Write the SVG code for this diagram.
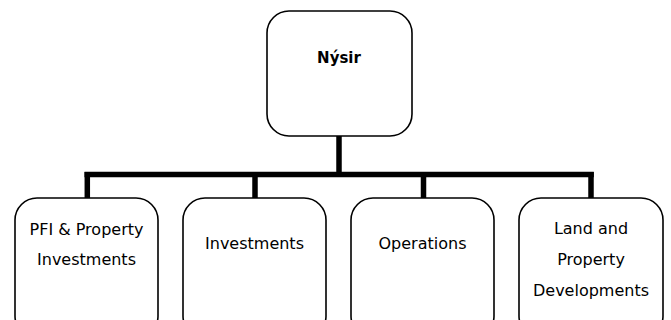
<svg xmlns="http://www.w3.org/2000/svg" width="671" height="320" viewBox="0 0 671 320">
<style>
.box{fill:#fff;stroke:#000;stroke-width:1.6}
.t{font-family:"DejaVu Sans",Verdana,sans-serif;font-size:16px;fill:#000;text-anchor:middle}
.b{font-family:"DejaVu Sans",Verdana,sans-serif;font-size:15px;font-weight:bold;fill:#000;text-anchor:middle}
.c{fill:none;stroke:#000;stroke-width:5.5}
</style>
<rect width="671" height="320" fill="#fff"/>
<g id="connectors">
<line class="c" x1="339" y1="136" x2="339" y2="174.5"/>
<line class="c" x1="84.5" y1="174.5" x2="593.8" y2="174.5"/>
<line class="c" x1="87.3" y1="172" x2="87.3" y2="198"/>
<line class="c" x1="255" y1="172" x2="255" y2="198"/>
<line class="c" x1="423.5" y1="172" x2="423.5" y2="198"/>
<line class="c" x1="591" y1="172" x2="591" y2="198"/>
</g>
<g id="nysir">
<rect class="box" x="267" y="11" width="145" height="125" rx="22"/>
<text class="b" x="339" y="62.5">Nýsir</text>
</g>
<g id="pfi">
<rect class="box" x="15" y="198" width="143" height="140" rx="22"/>
<text class="t" x="86.5" y="235">PFI &amp; Property</text>
<text class="t" x="86.5" y="265">Investments</text>
</g>
<g id="investments">
<rect class="box" x="183" y="198" width="143" height="140" rx="22"/>
<text class="t" x="254.5" y="249">Investments</text>
</g>
<g id="operations">
<rect class="box" x="351" y="198" width="143" height="140" rx="22"/>
<text class="t" x="422.5" y="249">Operations</text>
</g>
<g id="land">
<rect class="box" x="519" y="198" width="144" height="140" rx="22"/>
<text class="t" x="591" y="234">Land and</text>
<text class="t" x="591" y="265">Property</text>
<text class="t" x="591" y="296">Developments</text>
</g>
</svg>
